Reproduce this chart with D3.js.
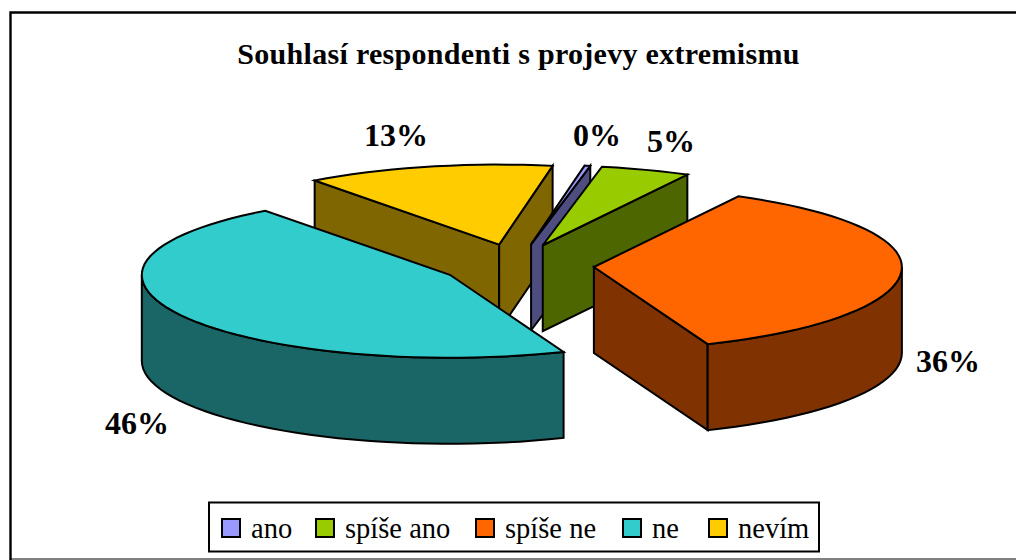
<!DOCTYPE html>
<html><head><meta charset="utf-8">
<script src="https://cdn.jsdelivr.net/npm/d3@7/dist/d3.min.js"></script>
<style>html,body{margin:0;padding:0;background:#fff}svg{display:block}text{font-family:"Liberation Serif",serif;fill:#000}</style>
</head><body><svg id="c" width="1016" height="560"></svg>
<script>
const titleText = "Souhlasí respondenti s projevy extremismu";
const categories = ["ano","spíše ano","spíše ne","ne","nevím"];
const values = [0.3,4.7,36.2,45.8,13.0];
const percentLabels = ["0%","5%","36%","46%","13%"];
const topColors = ["#9999FF","#99CC00","#FF6600","#33CCCC","#FFCC00"];
const wallColors = ["#4D4D80","#4D6600","#803300","#1A6666","#806600"];
const paintOrder = [4,0,1,2,3];
const labelAnchors = [[597,146],[671,152],[948,372],[137,434],[396,146]];
const legendOffsets = [222,316,476,623,709];
const W=1016,H=560,DEPTH=86;
const svg=d3.select("#c");
const sx=d3.scaleLinear().domain([-1,1]).range([-308,308]);
const sy=d3.scaleLinear().domain([-1,0,1]).range([-80,0,83]);
const ex=d3.scaleLinear().domain([-1,1]).range([-77,77]);
const ey=d3.scaleLinear().domain([-1,0,1]).range([-22,0,18]);
const cx=517,cy=266;
const startA=10*Math.PI/180;
const pie=d3.pie().sort(null).value(d=>d).startAngle(startA).endAngle(startA+2*Math.PI);
const arcs=pie(values);

svg.append("line").attr("x1",11).attr("x2",W).attr("y1",559).attr("y2",559).attr("stroke","#808080").attr("stroke-width",2);
svg.append("path").attr("d",`M10.5,${H}V12.5H${W}`).attr("fill","none").attr("stroke","#000").attr("stroke-width",2.4);

svg.append("text").attr("x",518.5).attr("y",64).attr("text-anchor","middle")
  .attr("font-size",30).attr("letter-spacing",0.3).attr("font-weight","bold").text(titleText);

const g=svg.append("g").attr("stroke","#000").attr("stroke-width",2).attr("stroke-linejoin","miter");
const pt=(ax,ay,a,dz=0)=>[ax+sx(Math.sin(a)),ay+sy(-Math.cos(a))+dz];
const poly=p=>d3.line()(p)+"Z";
function arcPts(ax,ay,a0,a1,dz){
  const n=Math.max(2,Math.ceil((a1-a0)/0.05)),r=[];
  d3.range(n+1).forEach(i=>r.push(pt(ax,ay,a0+(a1-a0)*i/n,dz)));
  return r;
}
paintOrder.forEach(i=>{
  const d=arcs[i],mid=(d.startAngle+d.endAngle)/2;
  const ax=cx+ex(Math.sin(mid)),ay=cy+ey(-Math.cos(mid));
  const s=g.append("g");
  const a0=d.startAngle,a1=d.endAngle;
  const wall=p=>s.append("path").attr("d",poly(p)).attr("fill",wallColors[i]);
  const radial=a=>{const o=pt(ax,ay,a);wall([[ax,ay],o,[o[0],o[1]+DEPTH],[ax,ay+DEPTH]]);};
  if(Math.sin(a0)<0) radial(a0);
  if(Math.sin(a1)>0) radial(a1);
  const b0=Math.max(a0,Math.PI/2),b1=Math.min(a1,3*Math.PI/2);
  if(b1>b0){
    const t=arcPts(ax,ay,b0,b1,0),b=arcPts(ax,ay,b0,b1,DEPTH).reverse();
    wall(t.concat(b));
  }
  s.append("path").attr("d",poly([[ax,ay]].concat(arcPts(ax,ay,a0,a1,0)))).attr("fill",topColors[i]);
});

percentLabels.forEach((t,i)=>{
  svg.append("text").attr("x",labelAnchors[i][0]).attr("y",labelAnchors[i][1]).attr("text-anchor","middle")
    .attr("font-size",32).attr("font-weight","bold").text(t);
});

svg.append("rect").attr("x",209).attr("y",502.5).attr("width",610).attr("height",49).attr("fill","#fff").attr("stroke","#000").attr("stroke-width",2);
categories.forEach((c,i)=>{
  svg.append("rect").attr("x",legendOffsets[i]).attr("y",519).attr("width",18).attr("height",18)
    .attr("fill",topColors[i]).attr("stroke","#000").attr("stroke-width",2);
  svg.append("text").attr("x",legendOffsets[i]+29).attr("y",538).attr("font-size",28.5).text(c);
});
</script></body></html>
